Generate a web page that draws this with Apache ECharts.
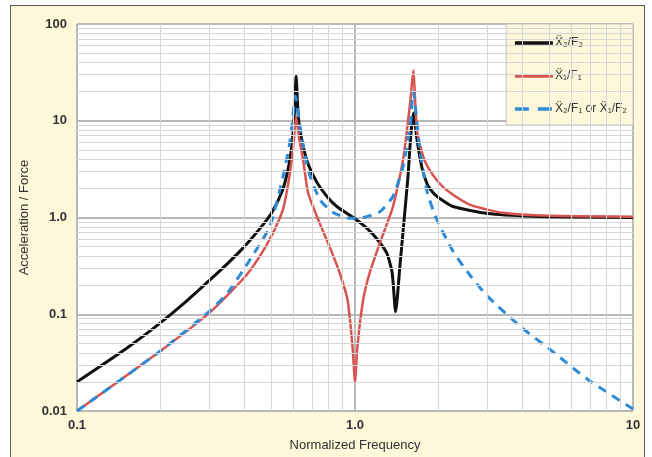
<!DOCTYPE html>
<html>
<head>
<meta charset="utf-8">
<script src="https://cdn.jsdelivr.net/npm/echarts@6/dist/echarts.min.js"></script>
<style>
  html, body { margin: 0; padding: 0; background: #fff; }
  .frame {
    position: absolute; left: 10px; top: 5px; width: 633px; height: 470px;
    border: 1.5px solid #5a5a5a; background: #fdf8d9;
  }
  #chart { position: absolute; left: 0; top: 0; width: 652px; height: 457px; }
</style>
</head>
<body>
<div class="frame"></div>
<div id="chart"></div>
<script>
// x2/F2 (black)
const blackF = [0.1, 0.15, 0.2, 0.25, 0.3, 0.35, 0.4, 0.45, 0.5, 0.55, 0.575, 0.59, 0.6, 0.607, 0.614, 0.622, 0.63, 0.65, 0.68, 0.73, 0.8, 0.86, 1.0, 1.1, 1.2, 1.3, 1.36, 1.4, 1.45, 1.5, 1.55, 1.59, 1.625, 1.67, 1.74, 1.82, 1.91, 2.0, 2.25, 3.0, 4.4, 6.5, 10]
const blackV = [0.02, 0.044, 0.082, 0.14, 0.225, 0.34, 0.5, 0.74, 1.1, 1.95, 3.2, 5.0, 8.0, 14, 29, 14, 9.0, 5.5, 3.5, 2.3, 1.6, 1.3, 0.97, 0.78, 0.6, 0.43, 0.27, 0.106, 0.31, 0.91, 2.6, 7.5, 12, 6.5, 3.3, 2.2, 1.8, 1.6, 1.3, 1.1, 1.03, 1.01, 1.0]

// x1/F1 (red)
const redF = [0.1, 0.2, 0.3, 0.4, 0.45, 0.5, 0.55, 0.58, 0.6, 0.614, 0.63, 0.65, 0.678, 0.73, 0.81, 0.88, 0.94, 0.98, 1.0, 1.02, 1.07, 1.13, 1.23, 1.37, 1.49, 1.58, 1.62, 1.67, 1.75, 1.82, 2.0, 2.2, 2.6, 3.4, 5.0, 10]
const redV = [0.01, 0.042, 0.104, 0.24, 0.38, 0.64, 1.2, 2.6, 5.5, 11, 6.5, 4.0, 1.8, 1.02, 0.5, 0.27, 0.141, 0.046, 0.02, 0.046, 0.141, 0.27, 0.55, 1.3, 4.0, 15.6, 33, 8.0, 4.5, 3.4, 2.3, 1.8, 1.35, 1.12, 1.04, 1.02]

// x2/F1 or x1/F2 (blue dashed)
const blueF = [0.1, 0.2, 0.3, 0.35, 0.42, 0.494, 0.551, 0.58, 0.593, 0.61, 0.634, 0.678, 0.748, 0.833, 0.96, 1.07, 1.23, 1.37, 1.49, 1.58, 1.62, 1.71, 1.82, 1.97, 2.25, 2.6, 3.0, 3.93, 5.15, 6.84, 10]
const blueV = [0.01, 0.042, 0.108, 0.17, 0.37, 0.81, 2.66, 5.5, 8.8, 18, 8.8, 3.1, 1.53, 1.13, 0.98, 1.0, 1.15, 1.66, 3.4, 8.8, 20, 5.1, 1.81, 0.95, 0.45, 0.25, 0.153, 0.075, 0.041, 0.0214, 0.0105]

const seriesNames = ['Ẍ₂/F₂', 'Ẍ₁/F₁', 'Ẍ₂/F₁ or Ẍ₁/F₂']
const yTickLabels = ['0.01', '0.1', '1.0', '10', '100']
const xTickLabels = ['0.1', '1.0', '10']
const minorX = [0.2, 0.3, 0.4, 0.5, 0.6, 0.7, 0.8, 0.9, 2, 3, 4, 5, 6, 7, 8, 9]
const minorY = [0.02, 0.03, 0.04, 0.05, 0.06, 0.07, 0.08, 0.09,
  0.2, 0.3, 0.4, 0.5, 0.6, 0.7, 0.8, 0.9,
  2, 3, 4, 5, 6, 7, 8, 9,
  20, 30, 40, 50, 60, 70, 80, 90]

const font = "'Liberation Sans', 'DejaVu Sans', sans-serif"
const pairs = (fs, vs) => fs.map((f, i) => [f, vs[i]])
const decade = v => Math.round(Math.log10(v))

const chart = echarts.init(document.getElementById('chart'))
chart.setOption({
  animation: false,
  backgroundColor: 'transparent',
  grid: {
    left: 77, right: 19, top: 24, bottom: 45,
    show: true, backgroundColor: '#fff', borderColor: '#c4c4c4', borderWidth: 1
  },
  xAxis: {
    type: 'log', logBase: 10, min: 0.1, max: 10,
    name: 'Normalized Frequency', nameLocation: 'middle', nameGap: 28,
    nameTextStyle: { color: '#333', fontSize: 13, fontFamily: font },
    axisLine: { show: false }, axisTick: { show: false },
    axisLabel: {
      color: '#333', fontSize: 13, fontWeight: 'bold', fontFamily: font, margin: 8,
      formatter: v => xTickLabels[decade(v) + 1]
    },
    splitLine: { lineStyle: { color: '#b8b8b8', width: 2 } }
  },
  yAxis: {
    type: 'log', logBase: 10, min: 0.01, max: 100,
    name: 'Acceleration / Force', nameLocation: 'middle', nameGap: 44,
    nameTextStyle: { color: '#333', fontSize: 13, fontFamily: font },
    axisLine: { show: false }, axisTick: { show: false },
    axisLabel: {
      color: '#333', fontSize: 13, fontWeight: 'bold', fontFamily: font, margin: 10,
      formatter: v => yTickLabels[decade(v) + 2]
    },
    splitLine: { lineStyle: { color: '#b8b8b8', width: 2 } }
  },
  legend: {
    data: [
      { name: seriesNames[0] },
      { name: seriesNames[1] },
      { name: seriesNames[2], lineStyle: { type: [14, 9] } }
    ],
    orient: 'vertical', right: 19, top: 24,
    padding: [12, 6, 9, 7], itemGap: 19,
    itemWidth: 38, itemHeight: 14,
    itemStyle: { opacity: 0 },
    lineStyle: { width: 3.5 },
    backgroundColor: '#fdf8d9', borderColor: '#c4c4c4', borderWidth: 1,
    textStyle: { color: '#333', fontSize: 12, lineHeight: 14, fontFamily: font, padding: [0, 0, 0, -3] }
  },
  series: [
    {
      name: 'grid', type: 'line', data: [], z: 1, silent: true,
      markLine: {
        silent: true, symbol: 'none', label: { show: false },
        lineStyle: { color: '#d6d6d6', width: 1, type: 'solid' },
        data: minorX.map(v => ({ xAxis: v })).concat(minorY.map(v => ({ yAxis: v })))
      }
    },
    {
      name: seriesNames[0], type: 'line', data: pairs(blackF, blackV),
      symbol: 'none', smooth: 0.2,
      lineStyle: { color: '#111', width: 3 }, itemStyle: { color: '#111' }
    },
    {
      name: seriesNames[1], type: 'line', data: pairs(redF, redV),
      symbol: 'none', smooth: 0.2,
      lineStyle: { color: '#d9534f', width: 2.5 }, itemStyle: { color: '#d9534f' }
    },
    {
      name: seriesNames[2], type: 'line', data: pairs(blueF, blueV),
      symbol: 'none', smooth: 0.2,
      lineStyle: { color: '#2e8bd6', width: 3, type: [9, 7] }, itemStyle: { color: '#2e8bd6' }
    }
  ]
})
</script>
</body>
</html>
